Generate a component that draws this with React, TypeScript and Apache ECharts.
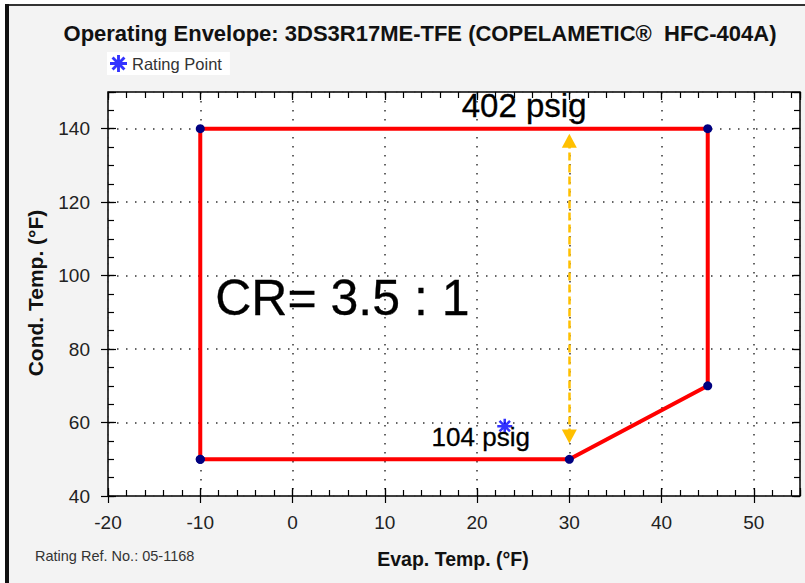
import React, { useEffect, useRef } from "react";
import * as echarts from "echarts";

// ---- data ----
const envelopeEvap = [-10, -10, 45, 45, 30, -10];
const envelopeCond = [50, 140, 140, 70, 50, 50];
const ratingPoint = [23, 59];
const arrowX = 30;
const arrowLow = 56.2;
const arrowHigh = 136.7;
const annotationTexts = ["402 psig", "104 psig", "CR= 3.5 : 1"];
const annotationX = [25.1, 20.4, 5.4];
const annotationY = [146.3, 56.2, 93.9];
const annotationSizes = [33, 26, 50];

const FONT = "Liberation Sans, Arial, Helvetica, sans-serif";
const STAR =
  "path://M8.3 0H11.7V20H8.3Z M0 8.3H20V11.7H0Z M4.2 1.8L18.2 15.8L15.8 18.2L1.8 4.2Z M15.8 1.8L18.2 4.2L4.2 18.2L1.8 15.8Z";

export default function App() {
  const ref = useRef<HTMLDivElement>(null);
  useEffect(() => {
    if (!ref.current) return;
    const chart = echarts.init(ref.current, null, { renderer: "svg" });

    const tickAxis = (pos: string, interval: number, len: number, isX: boolean) => ({
      type: "value",
      position: pos,
      min: isX ? -20 : 40,
      max: isX ? 55 : 150,
      interval,
      axisLine: { show: false, onZero: false },
      axisTick: { show: true, inside: true, length: len, lineStyle: { color: "#000", width: 1.2 } },
      axisLabel: { show: false },
      splitLine: { show: false },
    });

    const gridLine = { show: true, lineStyle: { color: "#333", width: 1.5, type: [1.5, 7.5] } };

    chart.setOption({
      animation: false,
      backgroundColor: "#f3f3f3",
      grid: {
        left: 108,
        top: 92,
        right: 5,
        bottom: 87,
        show: true,
        backgroundColor: "#ffffff",
        borderColor: "#000",
        borderWidth: 1.5,
      },
      legend: {
        left: 107,
        top: 52,
        backgroundColor: "#ffffff",
        padding: [3, 8, 3, 3],
        itemWidth: 17,
        itemHeight: 17,
        itemGap: 6,
        data: [{ name: "Rating Point", icon: STAR }],
        textStyle: { fontSize: 16.5, color: "#333", fontFamily: FONT },
      },
      xAxis: [
        {
          type: "value",
          position: "bottom",
          min: -20,
          max: 55,
          interval: 10,
          axisLine: { show: false, onZero: false },
          axisTick: { show: true, inside: false, length: 7, lineStyle: { color: "#000", width: 1.2 } },
          axisLabel: { fontSize: 19, color: "#222", margin: 17, showMaxLabel: false, fontFamily: FONT },
          splitLine: gridLine,
        },
        tickAxis("bottom", 10, 8, true),
        tickAxis("bottom", 2, 6, true),
        tickAxis("top", 2, 6, true),
        tickAxis("top", 10, 8, true),
      ],
      yAxis: [
        {
          type: "value",
          position: "left",
          min: 40,
          max: 150,
          interval: 20,
          axisLine: { show: false, onZero: false },
          axisTick: { show: true, inside: false, length: 7, lineStyle: { color: "#000", width: 1.2 } },
          axisLabel: { fontSize: 19, color: "#222", margin: 18, showMaxLabel: false, fontFamily: FONT },
          splitLine: gridLine,
        },
        tickAxis("left", 20, 8, false),
        tickAxis("left", 5, 6, false),
        tickAxis("right", 5, 6, false),
        tickAxis("right", 20, 8, false),
      ],
      graphic: [
        { type: "rect", shape: { x: 0, y: 0, width: 805, height: 4 }, style: { fill: "#ffffff" }, silent: true },
        { type: "rect", shape: { x: 0, y: 0, width: 5, height: 583 }, style: { fill: "#ffffff" }, silent: true },
        { type: "rect", shape: { x: 5, y: 4, width: 800, height: 2 }, style: { fill: "#333" }, silent: true },
        { type: "rect", shape: { x: 5, y: 4, width: 4, height: 579 }, style: { fill: "#111" }, silent: true },
        {
          type: "text",
          x: 420,
          y: 33,
          style: {
            text: "Operating Envelope: 3DS3R17ME-TFE (COPELAMETIC®  HFC-404A)",
            fontSize: 22,
            fontWeight: "bold",
            fontFamily: FONT,
            fill: "#111",
            align: "center",
            verticalAlign: "middle",
          },
        },
        {
          type: "text",
          x: 453,
          y: 559,
          style: {
            text: "Evap. Temp. (°F)",
            fontSize: 19.5,
            fontWeight: "bold",
            fontFamily: FONT,
            fill: "#111",
            align: "center",
            verticalAlign: "middle",
          },
        },
        {
          type: "text",
          x: 35,
          y: 293,
          rotation: Math.PI / 2,
          style: {
            text: "Cond. Temp. (°F)",
            fontSize: 21,
            fontWeight: "bold",
            fontFamily: FONT,
            fill: "#111",
            align: "center",
            verticalAlign: "middle",
          },
        },
        {
          type: "text",
          x: 35,
          y: 556,
          style: {
            text: "Rating Ref. No.: 05-1168",
            fontSize: 14.5,
            fontFamily: FONT,
            fill: "#333",
            align: "left",
            verticalAlign: "middle",
          },
        },
      ],
      series: [
        {
          name: "Envelope",
          type: "line",
          data: envelopeEvap.map((x, i) => [x, envelopeCond[i]]),
          lineStyle: { color: "#ff0000", width: 4 },
          itemStyle: { color: "#000080" },
          symbol: "circle",
          symbolSize: 9,
          showSymbol: true,
          z: 4,
          markLine: {
            silent: true,
            symbol: ["triangle", "triangle"],
            symbolSize: [15, 14],
            label: { show: false },
            lineStyle: { color: "#ffc000", width: 2.5, type: [8, 4], opacity: 1 },
            emphasis: { disabled: true },
            data: [[{ coord: [arrowX, arrowLow] }, { coord: [arrowX, arrowHigh] }]],
          },
        },
        {
          name: "Rating Point",
          type: "scatter",
          data: [ratingPoint],
          symbol: STAR,
          symbolSize: 15,
          itemStyle: { color: "#0000ff" },
          z: 5,
        },
        {
          name: "Annotations",
          type: "scatter",
          symbolSize: 1,
          itemStyle: { color: "rgba(0,0,0,0)" },
          z: 10,
          data: annotationTexts.map((t, i) => ({
            name: t,
            value: [annotationX[i], annotationY[i]],
            label: {
              show: true,
              position: "inside",
              formatter: "{b}",
              fontSize: annotationSizes[i],
              color: "#000",
              opacity: 1,
              textBorderColor: "#000",
              textBorderWidth: 0.3,
              fontFamily: FONT,
            },
          })),
        },
      ],
    });
    return () => chart.dispose();
  }, []);
  return (
    <div
      ref={ref}
      style={{ position: "fixed", left: 0, top: 0, width: 805, height: 583 }}
    />
  );
}
